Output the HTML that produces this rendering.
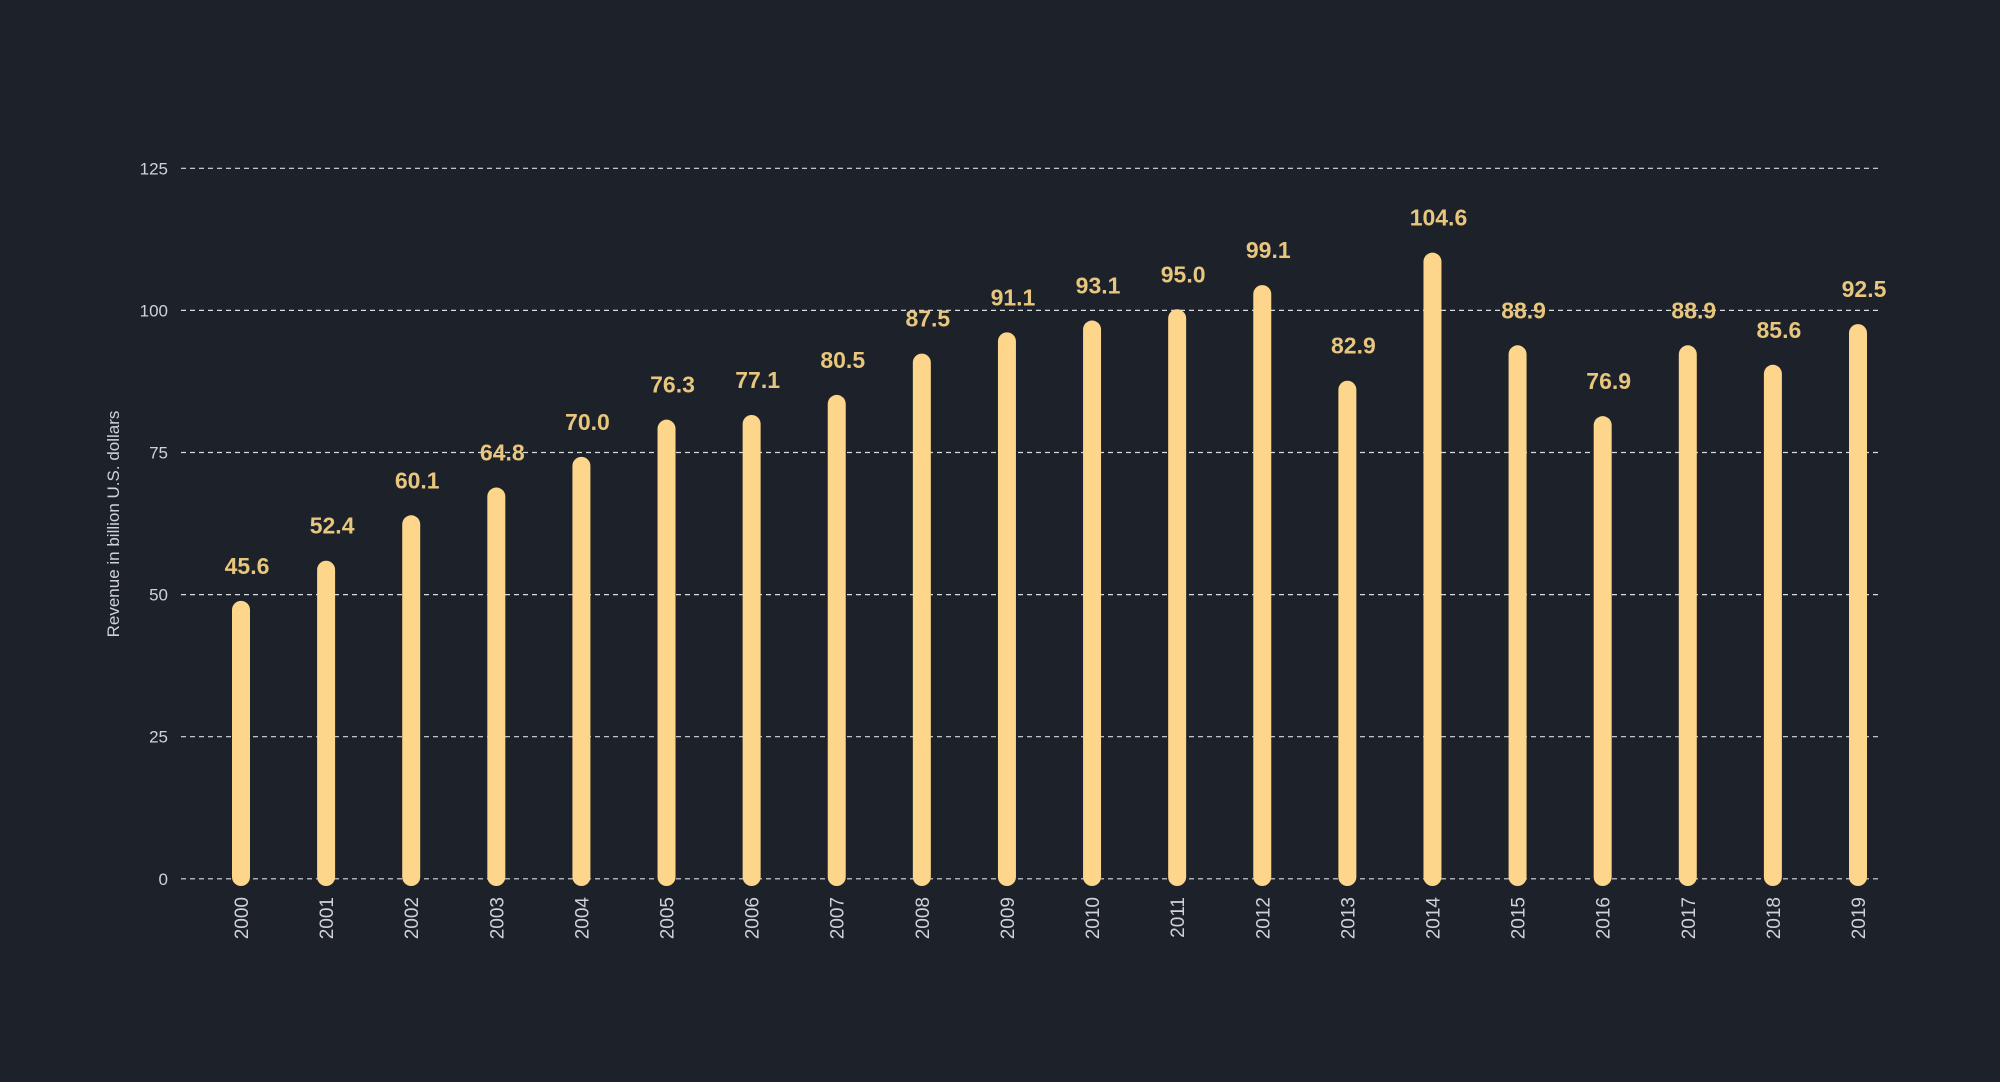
<!DOCTYPE html>
<html><head><meta charset="utf-8"><style>
html,body{margin:0;padding:0;background:#1d222a;}
svg{display:block;font-family:"Liberation Sans",sans-serif;}
</style></head><body>
<svg width="2000" height="1082" viewBox="0 0 2000 1082" xmlns="http://www.w3.org/2000/svg">
<rect width="2000" height="1082" fill="#1d222a"/>
<g id="grid"></g><g id="bars"></g><g id="labels"></g>
<text transform="translate(119,524) rotate(-90)" text-anchor="middle" fill="#cfd3d8" font-size="17">Revenue in billion U.S. dollars</text>
</svg>
<script>
const categories=["2000","2001","2002","2003","2004","2005","2006","2007","2008","2009","2010","2011","2012","2013","2014","2015","2016","2017","2018","2019"];
const values=[45.6,52.4,60.1,64.8,70.0,76.3,77.1,80.5,87.5,91.1,93.1,95.0,99.1,82.9,104.6,88.9,76.9,88.9,85.6,92.5];
const yTicks=[0,25,50,75,100,125];
const NS="http://www.w3.org/2000/svg";
function mk(t,a,p){const e=document.createElementNS(NS,t);for(const k in a)e.setAttribute(k,a[k]);p.appendChild(e);return e;}
function yAxis(v){return 878.8-v*5.684;}
function barY(v){return 870-v*5.902;}
function xPos(i){return 241+i*(1858-241)/(categories.length-1);}
const grid=document.getElementById('grid'),bars=document.getElementById('bars'),labels=document.getElementById('labels');
yTicks.forEach(t=>{
 const l=mk('line',{x1:181,x2:1878,y1:yAxis(t),y2:yAxis(t),stroke:'#d8dbe0','stroke-width':1.2,'stroke-dasharray':'5,4'},grid);
 
 
 const tx=mk('text',{x:168,y:yAxis(t)+6,'text-anchor':'end',fill:'#cfd3d8','font-size':17},grid);
 tx.textContent=t;
 
 
});
values.forEach((v,i)=>{
 const x=xPos(i),top=barY(v),bottom=886;
 const r=mk('rect',{x:x-9,y:top,width:18,height:bottom-top,rx:9,fill:'#fdd58b'},bars);
 
 
 const lb=mk('text',{x:x+6,y:top-27,'text-anchor':'middle',fill:'#e8c67d','font-size':23,'font-weight':'bold'},labels);
 lb.textContent=v.toFixed(1);
 
 
 const cx=mk('text',{transform:`translate(${x+7},897) rotate(-90)`,'text-anchor':'end',fill:'#cfd3d8','font-size':19},labels);
 cx.textContent=categories[i];
 
 
});
</script>
</body></html>
